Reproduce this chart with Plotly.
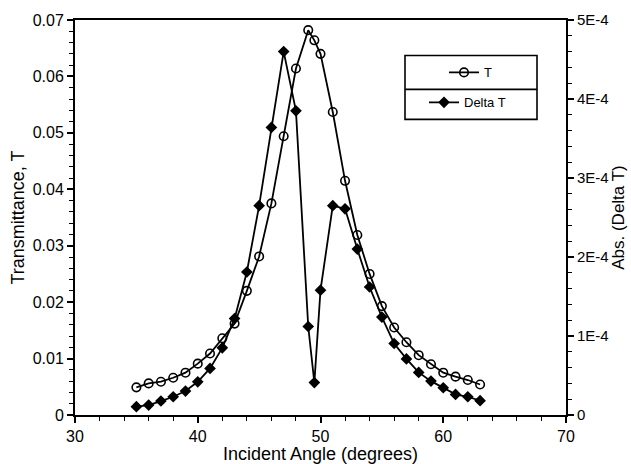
import plotly.graph_objects as go

# Incident angle (degrees); a half-degree step is taken at the resonance
angle = [35, 36, 37, 38, 39, 40, 41, 42, 43, 44, 45, 46, 47, 48, 49, 49.5,
         50, 51, 52, 53, 54, 55, 56, 57, 58, 59, 60, 61, 62, 63]

# Transmittance T (left axis)
transmittance = [0.0049, 0.0056, 0.0059, 0.0066, 0.0075, 0.0091, 0.0109, 0.0136,
                 0.0162, 0.0220, 0.0281, 0.0375, 0.0494, 0.0614, 0.0682, 0.0664,
                 0.0640, 0.0537, 0.0415, 0.0319, 0.0250, 0.0193, 0.0155, 0.0129,
                 0.0106, 0.0090, 0.0075, 0.0068, 0.0062, 0.0054]

# Abs. (Delta T) (right axis)
delta_t = [1.05e-5, 1.26e-5, 1.77e-5, 2.31e-5, 3.03e-5, 4.2e-5, 5.9e-5, 8.5e-5,
           1.22e-4, 1.81e-4, 2.65e-4, 3.64e-4, 4.60e-4, 3.85e-4, 1.12e-4, 4.1e-5,
           1.58e-4, 2.65e-4, 2.61e-4, 2.10e-4, 1.62e-4, 1.24e-4, 9.05e-5, 7.1e-5,
           5.39e-5, 4.29e-5, 3.45e-5, 2.61e-5, 2.31e-5, 1.81e-5]

x_ticks = [30, 40, 50, 60, 70]
y_ticks = [0, 0.01, 0.02, 0.03, 0.04, 0.05, 0.06, 0.07]
y2_ticks = [0, 1e-4, 2e-4, 3e-4, 4e-4, 5e-4]
y2_ticktext = ["0", "1E-4", "2E-4", "3E-4", "4E-4", "5E-4"]

W, H = 631, 464
L, R, T, B = 75, 65, 19.5, 49
FONT = "Liberation Sans, Arial, Helvetica, sans-serif"


def px_x(p):
    return (p - L) / (W - L - R)


def px_y(p):
    return (H - B - p) / (H - T - B)


fig = go.Figure()
fig.add_trace(go.Scatter(
    x=angle, y=transmittance, name="T", mode="lines+markers",
    line=dict(color="black", width=1.8),
    marker=dict(symbol="circle-open", size=8.5, color="black", line=dict(width=1.6)),
    legend="legend",
))
fig.add_trace(go.Scatter(
    x=angle, y=delta_t, name="Delta T", mode="lines+markers", yaxis="y2",
    line=dict(color="black", width=1.8),
    marker=dict(symbol="diamond", size=9, color="black"),
    legend="legend2",
))

axis_common = dict(
    showline=True, linecolor="black", linewidth=2,
    ticks="outside", tickcolor="black", tickwidth=1.5, ticklen=6,
    showgrid=False, zeroline=False, automargin=False,
    tickfont=dict(family=FONT, size=16, color="black"),
)
minor_common = dict(ticklen=4, tickwidth=1.3, ticks="outside", tickcolor="black")
title_font = dict(family=FONT, size=18, color="black")

fig.update_layout(
    width=W, height=H,
    margin=dict(l=L, r=R, t=T, b=B, pad=0),
    paper_bgcolor="white", plot_bgcolor="white",
    font=dict(family=FONT, color="black"),
    xaxis=dict(
        **axis_common, range=[30, 70], tickvals=x_ticks, mirror=True,
        minor=dict(dtick=2, **minor_common),
        title=dict(text="Incident Angle (degrees)", font=title_font, standoff=2),
    ),
    yaxis=dict(
        **axis_common, range=[0, 0.07], tickvals=y_ticks,
        minor=dict(dtick=0.002, **minor_common),
        title=dict(text="Transmittance, T", font=title_font, standoff=3),
    ),
    yaxis2=dict(
        **{**axis_common, "tickfont": dict(family=FONT, size=15, color="black")},
        overlaying="y", side="right", range=[0, 5e-4],
        tickvals=y2_ticks, ticktext=y2_ticktext,
        minor=dict(dtick=2e-5, **minor_common),
        title=dict(text="Abs. (Delta T)", font=dict(family=FONT, size=17, color="black"),
                   standoff=0),
    ),
    legend=dict(
        x=px_x(444), y=px_y(72), xanchor="left", yanchor="middle",
        bgcolor="rgba(0,0,0,0)", borderwidth=0,
        font=dict(family=FONT, size=13, color="black"),
    ),
    legend2=dict(
        x=px_x(424), y=px_y(102), xanchor="left", yanchor="middle",
        bgcolor="rgba(0,0,0,0)", borderwidth=0,
        font=dict(family=FONT, size=13, color="black"),
    ),
    showlegend=True,
)

# Legend frame drawn as a two-row table
fig.add_shape(type="rect", xref="paper", yref="paper",
              x0=px_x(405), x1=px_x(537), y0=px_y(55), y1=px_y(119),
              line=dict(color="black", width=1.6))
fig.add_shape(type="line", xref="paper", yref="paper",
              x0=px_x(405), x1=px_x(537), y0=px_y(89), y1=px_y(89),
              line=dict(color="black", width=1.6))

fig.write_html("out.html")
